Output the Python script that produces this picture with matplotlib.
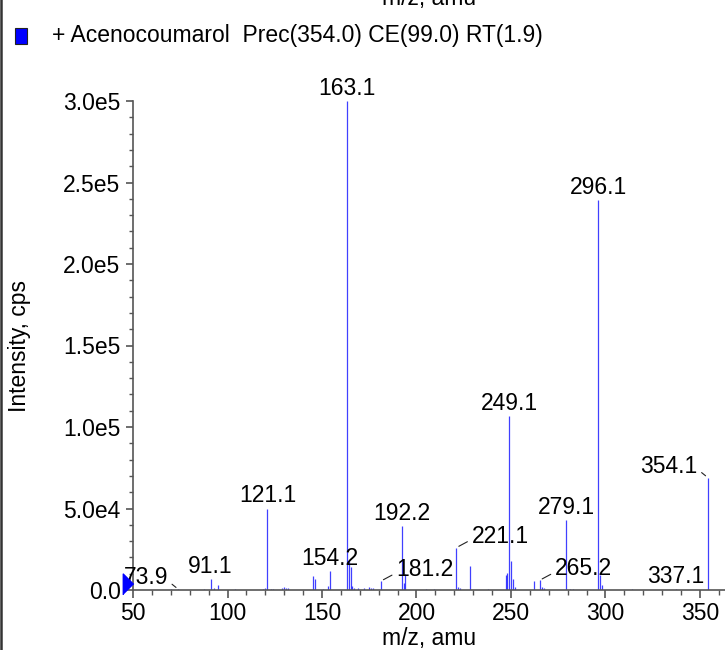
import matplotlib
matplotlib.use('Agg')
import matplotlib.pyplot as plt
from matplotlib.ticker import FixedLocator, FixedFormatter, MultipleLocator
from matplotlib.transforms import ScaledTranslation
from matplotlib.patches import Rectangle
import matplotlib.lines as mlines

plt.rcParams['font.family'] = ['Liberation Sans', 'DejaVu Sans']

# ---------------- data ----------------
title_text = "+ Acenocoumarol  Prec(354.0) CE(99.0) RT(1.9)"
x_label = "m/z, amu"
y_label = "Intensity, cps"

# labelled peaks
label_mz = [73.9, 91.1, 121.1, 154.2, 163.1, 181.2, 192.2, 221.1,
            249.1, 265.2, 279.1, 296.1, 337.1, 354.1]
label_int = [500, 7000, 50000, 11500, 300000, 5500, 39000, 26000,
             107000, 6000, 43000, 239000, 800, 69000]

# unlabelled minor peaks
minor_mz = [70.2, 87.6, 93.0, 95.0, 104.0, 119.0, 120.0, 123.0, 124.0,
            129.0, 130.0, 131.0, 132.0, 145.1, 146.1, 150.5, 153.1,
            164.1, 165.1, 166.1, 167.1, 169.0, 172.0, 175.0, 176.0, 177.0,
            193.2, 194.1, 205.0, 209.0, 222.1, 223.0, 228.1, 237.8,
            247.1, 248.1, 250.1, 251.1, 252.1, 262.2, 266.2, 267.2,
            281.0, 283.0, 297.1, 298.1, 314.0, 320.0]
minor_int = [400, 500, 1500, 3000, 600, 800, 1200, 800, 500,
             1500, 2000, 1500, 1000, 8500, 6500, 500, 2500,
             18000, 14000, 2500, 1500, 1200, 1500, 2000, 1500, 1000,
             4000, 10000, 600, 500, 2000, 1500, 15000, 500,
             9000, 10500, 18000, 7000, 2000, 5500, 2000, 1200,
             600, 800, 9500, 3000, 500, 300]

precursor_mz = [50.0]
precursor_int = [0.0]

x_ticks = [50, 100, 150, 200, 250, 300, 350]
y_ticks = [0, 50000, 100000, 150000, 200000, 250000, 300000]
y_tick_labels = ['0.0', '5.0e4', '1.0e5', '1.5e5', '2.0e5', '2.5e5', '3.0e5']

# leader-line labels: mz -> side of text
leader_side = {73.9: 'left', 181.2: 'right', 221.1: 'right',
               265.2: 'right', 354.1: 'left'}

# ---------------- figure ----------------
W, H = 725, 650
fig = plt.figure(figsize=(W / 100, H / 100), dpi=100)
ax = fig.add_axes([133 / W, 60 / H, 592 / W, 489 / H])

blue = '#0000ff'
axis_col = '#555555'
fs = 16.5

all_mz = minor_mz + label_mz
all_int = minor_int + label_int
ax.vlines(all_mz, 0, all_int, colors=blue, linewidth=0.9, alpha=0.75)

ax.set_xlim(50, 50 + 592 / 1.89)
ax.set_ylim(0, 300000)

for s in ['top', 'right']:
    ax.spines[s].set_visible(False)
for s in ['left', 'bottom']:
    ax.spines[s].set_color(axis_col)
    ax.spines[s].set_linewidth(1.2)

ax.xaxis.set_major_locator(FixedLocator(x_ticks))
ax.xaxis.set_minor_locator(MultipleLocator(10))
ax.yaxis.set_major_locator(FixedLocator(y_ticks))
ax.yaxis.set_major_formatter(FixedFormatter(y_tick_labels))
ax.yaxis.set_minor_locator(MultipleLocator(10000))
ax.tick_params(axis='x', which='major', length=6, width=1.2, color=axis_col,
               labelsize=fs, pad=3)
ax.tick_params(axis='x', which='minor', length=3.5, width=1.0, color=axis_col)
ax.tick_params(axis='y', which='major', length=5, width=1.2, color=axis_col,
               labelsize=fs, pad=4)
ax.tick_params(axis='y', which='minor', length=3, width=1.0, color=axis_col)

ax.set_xlabel(x_label, fontsize=fs)
ax.xaxis.set_label_coords(0.5, -(627 - 590) / 489)
ax.set_ylabel(y_label, fontsize=fs)
ax.yaxis.set_label_coords((31 - 133) / 592, 0.5)

# peak labels
for mz, it in zip(label_mz, label_int):
    txt = f"{mz:.1f}"
    side = leader_side.get(mz)
    if side is None:
        ax.annotate(txt, xy=(mz, it), xytext=(0, 6), textcoords='offset pixels',
                    ha='center', va='baseline', fontsize=fs)
    else:
        dx = -10 if side == 'left' else 15
        ha = 'right' if side == 'left' else 'left'
        ax.annotate(txt, xy=(mz, it), xytext=(dx, 5), textcoords='offset pixels',
                    ha=ha, va='baseline', fontsize=fs,
                    arrowprops=dict(arrowstyle='-', color='#222222', lw=0.8,
                                    shrinkA=1, shrinkB=2,
                                    relpos=(1.0, 0.35) if side == 'left' else (0.0, 0.35)))

# precursor marker
tri = [(-0.5, -1), (-0.5, 1), (0.5, 0)]
ax.plot(precursor_mz, precursor_int, linestyle='none', marker=tri, ms=15,
        color=blue, clip_on=False, zorder=5,
        transform=ax.transData + ScaledTranslation(-5 / 100, 6 / 100, fig.dpi_scale_trans))

# legend-like header
fig.patches.append(Rectangle((15 / W, 1 - 44 / H), 12 / W, 16 / H,
                             transform=fig.transFigure, facecolor=blue,
                             edgecolor='#222222', linewidth=0.8))
fig.text(52 / W, 1 - 42 / H, title_text, fontsize=fs, ha='left', va='baseline')

# partial x label of the panel above
fig.text(429 / W, 1 - 5 / H, x_label, fontsize=fs, ha='center', va='baseline')

# left border line
fig.add_artist(mlines.Line2D([1.2 / W, 1.2 / W], [0, 1], color='#333333',
                             linewidth=1.8, transform=fig.transFigure))

fig.savefig('out.png', dpi=100)
